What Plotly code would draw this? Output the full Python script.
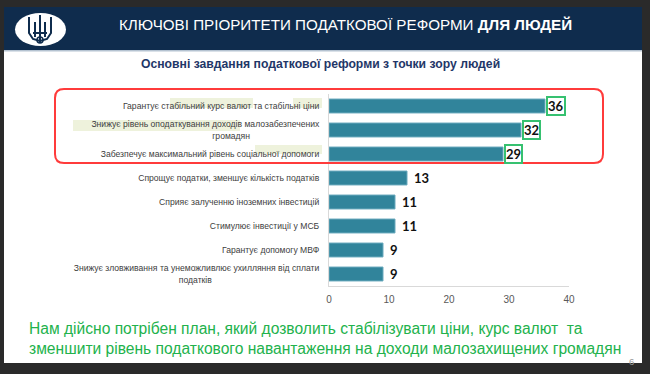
import plotly.graph_objects as go

categories = [
    "Гарантує стабільний курс валют та стабільні ціни",
    "Знижує рівень оподаткування доходів малозабезпечених<br>громадян" + "\u00a0" * 29,
    "Забезпечує максимальний рівень соціальної допомоги",
    "Спрощує податки, зменшує кількість податків",
    "Сприяє залученню іноземних інвестицій",
    "Стимулює інвестиції у МСБ",
    "Гарантує допомогу МВФ",
    "Знижує зловживання та унеможливлює ухилляння від сплати<br>податків" + "\u00a0" * 45,
]
values = [36, 32, 29, 13, 11, 11, 9, 9]
highlighted = [True, True, True, False, False, False, False, False]
x_ticks = [0, 10, 20, 30, 40]

W, H = 650, 374
L, R, T, B = 329, 569, 94, 286


def px(x):
    return (x - L) / (R - L)


def py(y):
    return (B - y) / (B - T)


def rect(x0, y0, x1, y1, fill, line=None, lw=0, layer="below"):
    return dict(type="rect", xref="paper", yref="paper",
                x0=px(x0), x1=px(x1), y0=py(y0), y1=py(y1),
                fillcolor=fill, line=dict(color=line or fill, width=lw), layer=layer)


def round_rect_path(x0, y0, x1, y1, r):
    pts = [
        ("M", (x0 + r, y0)), ("L", (x1 - r, y0)), ("Q", (x1, y0, x1, y0 + r)),
        ("L", (x1, y1 - r)), ("Q", (x1, y1, x1 - r, y1)), ("L", (x0 + r, y1)),
        ("Q", (x0, y1, x0, y1 - r)), ("L", (x0, y0 + r)), ("Q", (x0, y0, x0 + r, y0)),
    ]
    s = ""
    for cmd, c in pts:
        if len(c) == 2:
            s += f"{cmd}{px(c[0]):.5f},{py(c[1]):.5f} "
        else:
            s += f"{cmd}{px(c[0]):.5f},{py(c[1]):.5f} {px(c[2]):.5f},{py(c[3]):.5f} "
    return s + "Z"


def poly(points):
    s = ""
    for i, (x, y) in enumerate(points):
        s += ("M" if i == 0 else "L") + f"{px(x):.5f},{py(y):.5f} "
    return s


fig = go.Figure()
fig.add_trace(go.Bar(
    x=values, y=categories, orientation="h",
    marker=dict(color="#31849b", line=dict(color="#6aaabd", width=1)),
    width=0.58, hoverinfo="skip",
))

shapes = []
# slide background and header
shapes.append(rect(4, 7, 642, 363, "#ffffff"))
shapes.append(rect(4, 7, 642, 50, "#0f2c4d"))
shapes.append(rect(4, 50, 642, 51.5, "#b5c3d1"))
# logo ellipse
shapes.append(dict(type="circle", xref="paper", yref="paper",
                   x0=px(15), x1=px(66), y0=py(13), y1=py(46),
                   fillcolor="#ffffff", line=dict(color="#ffffff", width=0), layer="below"))
trident = [
    [(29, 17), (29, 33), (33, 39), (40, 41), (47, 39), (51, 33), (51, 17)],
    [(40, 15), (40, 43)],
    [(35, 22), (35, 37)],
    [(45, 22), (45, 37)],
    [(33, 33), (47, 33)],
]
for t in trident:
    shapes.append(dict(type="path", xref="paper", yref="paper", path=poly(t),
                       line=dict(color="#0f2c4d", width=2), layer="above"))
shapes.append(dict(type="circle", xref="paper", yref="paper",
                   x0=px(37), x1=px(43), y0=py(37), y1=py(43),
                   line=dict(color="#0f2c4d", width=1.5), layer="above"))
# label highlights
for (a, b, c, d) in [(170, 98, 253, 108), (293, 98, 322, 108),
                     (73, 120, 240, 131), (255, 145, 322, 154)]:
    shapes.append(rect(a, b, c, d, "#eef2dc"))
# red rounded frame
shapes.append(dict(type="path", xref="paper", yref="paper",
                   path=round_rect_path(55, 89, 603, 163, 9),
                   line=dict(color="#ff3b3b", width=2), layer="above"))

annotations = []
for cat, v, hl in zip(categories, values, highlighted):
    if hl:
        annotations.append(dict(x=v, y=cat, xref="x", yref="y", text=f"<b>{v}</b>",
                                showarrow=False, xanchor="left", xshift=1,
                                font=dict(family="Lato, Liberation Sans", size=13, color="#111111"),
                                bgcolor="#ffffff", bordercolor="#36c170", borderwidth=2, borderpad=0))
    else:
        annotations.append(dict(x=v, y=cat, xref="x", yref="y", text=f"<b>{v}</b>",
                                showarrow=False, xanchor="left", xshift=5,
                                font=dict(family="Lato, Liberation Sans", size=13, color="#111111")))

annotations += [
    dict(x=px(117), y=py(24), xref="paper", yref="paper", xanchor="left", yanchor="middle",
         text="КЛЮЧОВІ ПРІОРИТЕТИ ПОДАТКОВОЇ РЕФОРМИ <b>ДЛЯ ЛЮДЕЙ</b>", showarrow=False,
         font=dict(family="Liberation Sans", size=15.2, color="#ffffff")),
    dict(x=px(320), y=py(64), xref="paper", yref="paper", xanchor="center", yanchor="middle",
         text="<b>Основні завдання податкової реформи з точки зору людей</b>", showarrow=False,
         font=dict(family="Liberation Sans", size=12.2, color="#1f3768")),
    dict(x=px(27), y=py(338), xref="paper", yref="paper", xanchor="left", yanchor="middle",
         align="left",
         text="Нам дійсно потрібен план, який дозволить стабілізувати ціни, курс валют  та<br>"
              "зменшити рівень податкового навантаження на доходи малозахищених громадян",
         showarrow=False, font=dict(family="Liberation Sans", size=15.6, color="#22b24c")),
    dict(x=px(631), y=py(361), xref="paper", yref="paper", xanchor="center", yanchor="middle",
         text="6", showarrow=False, font=dict(family="Liberation Sans", size=9.5, color="#9a9a9a")),
]

fig.update_layout(
    width=W, height=H,
    margin=dict(l=L, r=W - R, t=T, b=H - B, pad=0),
    paper_bgcolor="#2a2a2a", plot_bgcolor="rgba(0,0,0,0)",
    showlegend=False, shapes=shapes, annotations=annotations,
    bargap=0.42,
)
fig.update_xaxes(range=[0, 40], tickvals=x_ticks, showgrid=False, zeroline=False,
                 showline=True, linecolor="#d9d9d9", linewidth=1, ticks="",
                 tickfont=dict(family="Liberation Sans", size=10, color="#595959"),
                 ticklabelstandoff=4, fixedrange=True)
fig.update_yaxes(autorange="reversed", showgrid=False, zeroline=False,
                 showline=True, linecolor="#d9d9d9", linewidth=1, ticks="",
                 tickfont=dict(family="Liberation Sans", size=8.6, color="#404040"),
                 ticklabelstandoff=7, fixedrange=True)

fig.write_html("out.html", config={"displayModeBar": False},
               post_script="document.body.style.margin='0';document.body.style.overflow='hidden';")
